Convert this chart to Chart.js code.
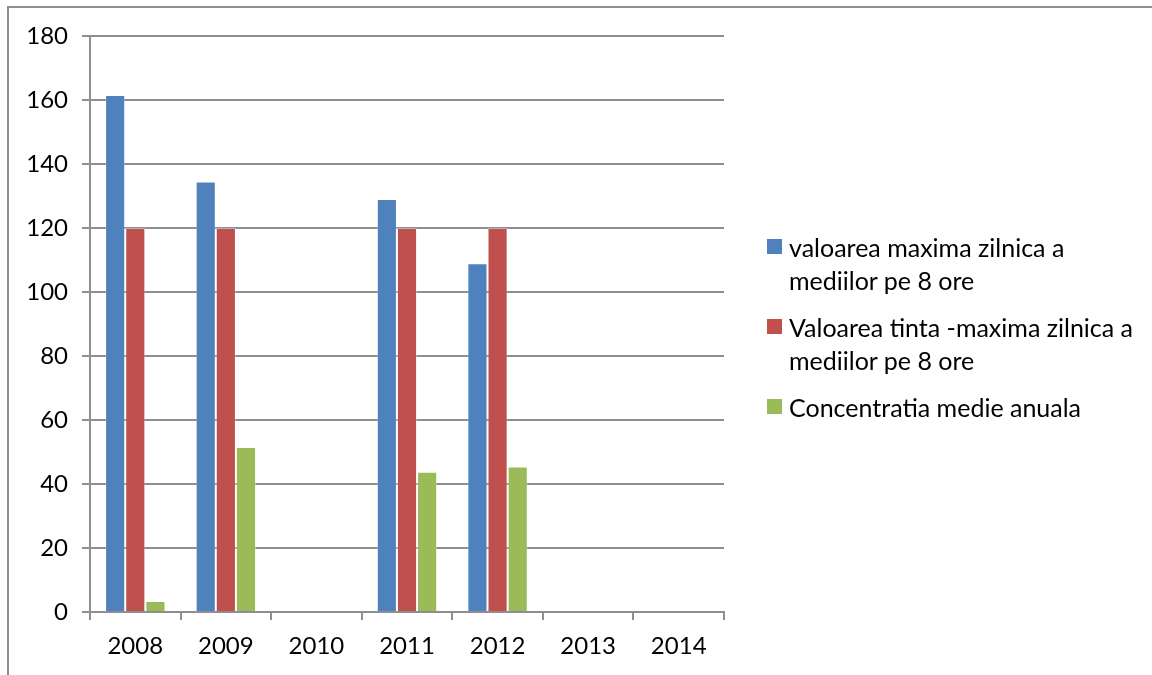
<!DOCTYPE html>
<html lang="ro">
<head>
    <meta charset="UTF-8">
    <title>Valori maxime zilnice</title>
    <script src="https://cdn.jsdelivr.net/npm/chart.js"></script>
    <style>
        body { margin: 0; background: #fff; font-family: Lato, sans-serif; }
        #wrap { position: relative; width: 1152px; height: 675px; overflow: hidden; }
        #frame { position: absolute; left: 7px; top: 6px; right: -10px; bottom: -10px; border-left: 2px solid #8e8e8e; border-top: 2px solid #8e8e8e; }
        #legend { position: absolute; left: 767px; top: 231px; font-size: 25px; color: #000; }
        .item { position: relative; padding-left: 22px; line-height: 33px; margin-bottom: 14px; white-space: nowrap; }
        .item span { position: absolute; left: 0; top: 8px; width: 15px; height: 15px; }
    </style>
</head>
<body>
<div id="wrap">
    <canvas id="chart" width="1152" height="675"></canvas>
    <div id="frame"></div>
    <div id="legend"></div>
</div>
<script>
    const years = ["2008", "2009", "2010", "2011", "2012", "2013", "2014"];
    const maxDaily = [161.6, 134.5, null, 129.1, 109, null, null];
    const targetValue = [120, 120, null, 120, 120, null, null];
    const annualMean = [3.4, 51.6, null, 43.8, 45.5, null, null];
    const seriesNames = [
        ["valoarea maxima zilnica a", "mediilor pe 8 ore"],
        ["Valoarea tinta -maxima zilnica a", "mediilor pe 8 ore"],
        ["Concentratia medie anuala"]
    ];
    const colors = ["#4F81BD", "#C0504D", "#9BBB59"];

    const gridColor = "#8e8e8e";
    const font = { family: "Lato, sans-serif", size: 24 };

    new Chart(document.getElementById("chart"), {
        type: "bar",
        data: {
            labels: years,
            datasets: [maxDaily, targetValue, annualMean].map((d, i) => ({
                label: seriesNames[i].join(" "),
                data: d,
                backgroundColor: colors[i],
                borderColor: "rgba(255,255,255,0.35)",
                borderWidth: 1,
                categoryPercentage: 0.667,
                barPercentage: 1
            }))
        },
        options: {
            responsive: false,
            animation: false,
            layout: { padding: { left: 0, top: 36, right: 428, bottom: 0 } },
            plugins: { legend: { display: false }, tooltip: { enabled: false } },
            scales: {
                x: {
                    grid: { drawOnChartArea: false, color: gridColor, lineWidth: 2, tickLength: 8 },
                    border: { color: gridColor, width: 2 },
                    ticks: { color: "#000", font: font, padding: 12 },
                    afterFit: s => { s.height = 63; }
                },
                y: {
                    min: 0, max: 180,
                    ticks: { stepSize: 20, color: "#000", font: font, padding: 14 },
                    grid: { color: gridColor, lineWidth: 2, tickLength: 8 },
                    border: { color: gridColor, width: 2 },
                    afterFit: s => { s.width = 90; }
                }
            }
        }
    });

    // legend with wrapped lines, like the original
    const legend = document.getElementById("legend");
    seriesNames.forEach((lines, i) => {
        const item = document.createElement("div");
        item.className = "item";
        item.innerHTML = '<span style="background:' + colors[i] + '"></span>' + lines.join("<br>");
        legend.appendChild(item);
    });
</script>
</body>
</html>
